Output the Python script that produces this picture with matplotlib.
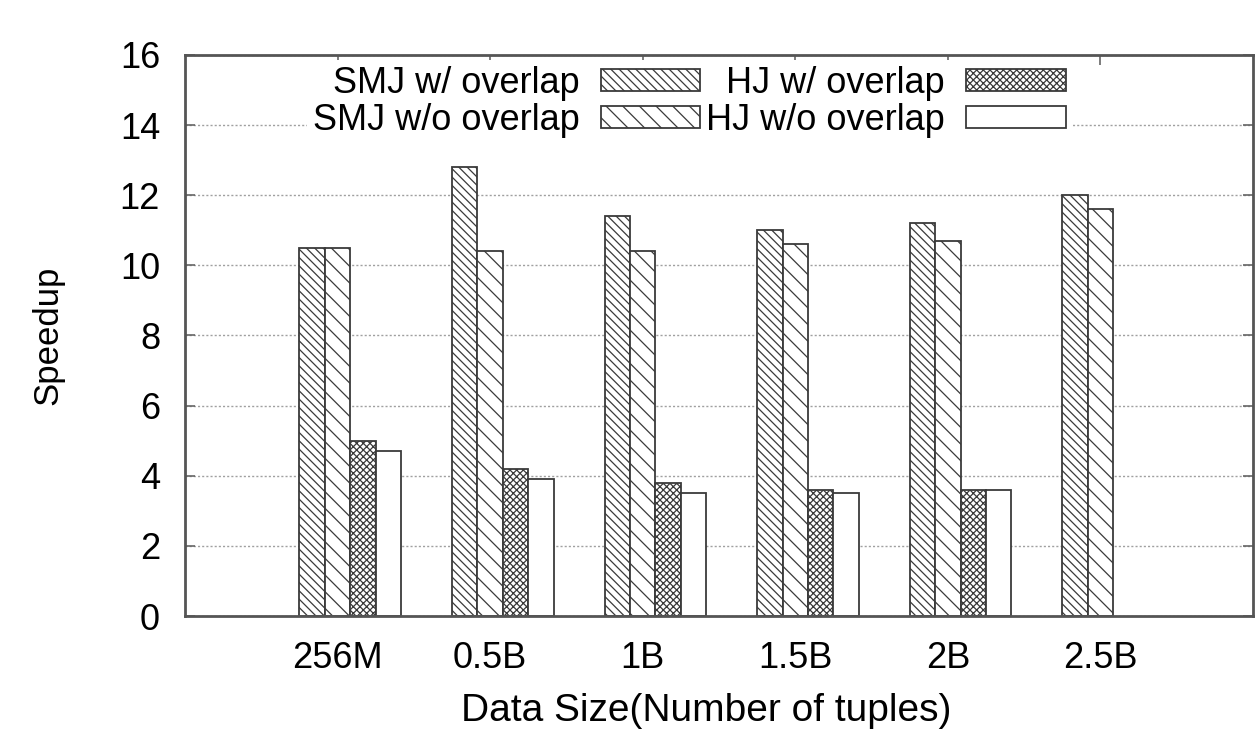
import matplotlib
matplotlib.use("Agg")
import matplotlib.pyplot as plt
import numpy as np

plt.rcParams['font.family'] = ['Liberation Sans', 'DejaVu Sans']
plt.rcParams['hatch.linewidth'] = 0.9

sizes = ["256M", "0.5B", "1B", "1.5B", "2B", "2.5B"]
smj_overlap = [10.5, 12.8, 11.4, 11.0, 11.2, 12.0]
smj_no_overlap = [10.5, 10.4, 10.4, 10.6, 10.7, 11.6]
hj_overlap = [5.0, 4.2, 3.8, 3.6, 3.6, np.nan]
hj_no_overlap = [4.7, 3.9, 3.5, 3.5, 3.6, np.nan]

series = [
    ("SMJ w/ overlap", smj_overlap, "\\\\\\\\"),
    ("SMJ w/o overlap", smj_no_overlap, "\\\\"),
    ("HJ w/ overlap", hj_overlap, "xxxxx"),
    ("HJ w/o overlap", hj_no_overlap, ""),
]

fig = plt.figure(figsize=(12.57, 7.35), dpi=100)
ax = fig.add_axes([0.1472, 0.1619, 0.8496, 0.7633])

x = np.arange(len(sizes))
w = 1 / 6
for j, (name, vals, hatch) in enumerate(series):
    ax.bar(x + (j - 1) * w, vals, width=w, color="white", edgecolor="#3a3a3a",
           linewidth=1.3, hatch=hatch, label=name, zorder=2)

ax.set_xlim(-1, 6)
ax.set_ylim(0, 16)
ax.set_xticks(x)
ax.set_xticklabels(sizes)
ax.set_yticks(np.arange(0, 17, 2))
ax.set_axisbelow(True)
ax.yaxis.grid(True, linestyle=(0, (1.5, 1.5)), color="#a0a0a0", linewidth=1.0)

ax.tick_params(axis="both", direction="in", length=7, width=1.2, color="#666666",
               labelsize=26, top=True, right=True)
ax.tick_params(axis="x", pad=18)
ax.tick_params(axis="y", pad=18)
for s in ax.spines.values():
    s.set_color("#555555")
    s.set_linewidth(2)

ax.set_xlabel("Data Size(Number of tuples)", fontsize=28, labelpad=12)
ax.xaxis.label.set_x(0.488)
ax.set_ylabel("Speedup", fontsize=25, labelpad=40)

leg = ax.legend(ncol=2, loc="upper center", bbox_to_anchor=(0.472, 1.0),
                markerfirst=False, frameon=True, fontsize=26, handlelength=2.75,
                handleheight=0.55, handletextpad=0.6, columnspacing=0.15,
                labelspacing=0.05, borderaxespad=0.15, borderpad=0.15)
leg.get_frame().set_edgecolor("none")
leg.get_frame().set_facecolor("white")
leg.get_frame().set_alpha(1)

fig.savefig("out.png", dpi=100)
